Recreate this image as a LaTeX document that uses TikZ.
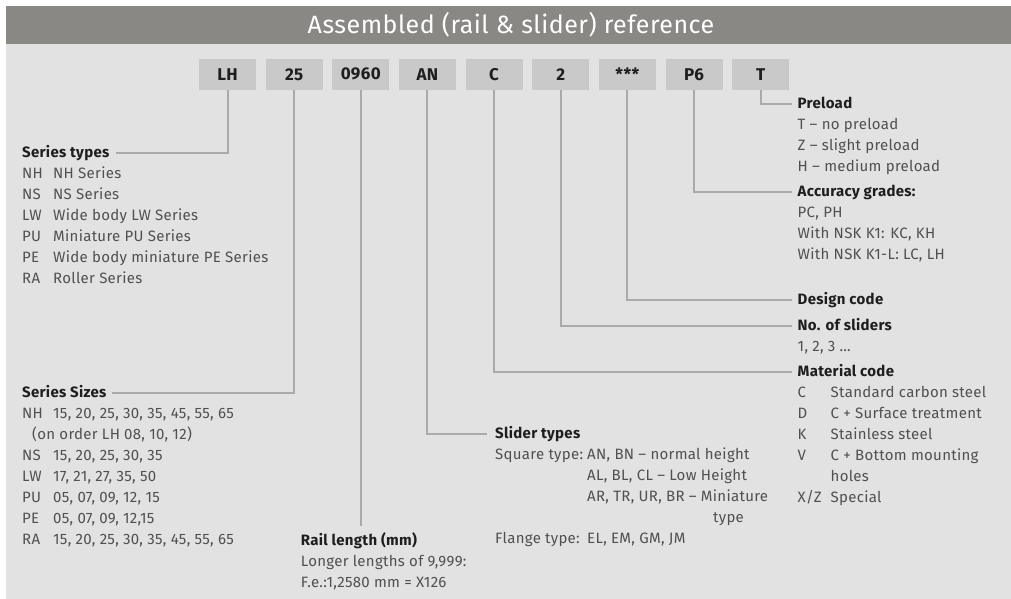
\documentclass[tikz,border=0pt]{standalone}
\usepackage{fontspec}
\setmainfont{Fira Sans}[LetterSpace=2]
\usetikzlibrary{positioning}
\definecolor{panel}{HTML}{E2E2E2}
\definecolor{band}{HTML}{898885}
\definecolor{codefill}{HTML}{C8C9C8}
\definecolor{leadline}{HTML}{AAAAAA}
\definecolor{bodytext}{HTML}{505050}
\definecolor{headtext}{HTML}{1E1E1E}

\begin{document}
\begin{tikzpicture}[
    x=1pt, y=-1pt,
    node distance=9.25pt,
    code/.style={rectangle, fill=codefill, minimum width=57pt, minimum height=30.7pt, inner sep=0pt, font=\fontsize{17}{20}\selectfont\bfseries, text=headtext},
    head/.style={anchor=west, inner sep=0pt, text height=14.7pt, text depth=6.3pt, font=\fontsize{15}{21}\selectfont\bfseries, text=headtext},
    body/.style={below right=0pt and 0pt of #1, inner sep=0pt, font=\fontsize{15}{21}\selectfont, text=bodytext},
    lead/.style={draw=leadline, line width=2pt},
    title/.style={font=\fontsize{25}{28}\selectfont, text=white}
]
\useasboundingbox (0,0) rectangle (1011,599);

% Panel and title band
\fill[panel] (6,6) rectangle (1011,599);
\fill[band] (6,6) rectangle (1011,44);
\node[title] (title) at (511,25) {Assembled (rail \& slider) reference};

% Reference code boxes
\node[code] (lh) at (227.5,74.3) {LH};
\node[code, right=of lh] (sz) {25};
\node[code, right=of sz] (len) {0960};
\node[code, right=of len] (an) {AN};
\node[code, right=of an] (mat) {C};
\node[code, right=of mat] (nsl) {2};
\node[code, right=of nsl] (dsg) {***};
\node[code, right=of dsg] (acc) {P6};
\node[code, right=of acc] (pre) {T};

% Left column
\node[head] (typest) at (22,153) {Series types};
\node[body=typest.south west] (typesb) {\begin{tabular}{@{}p{31pt}@{}l@{}}
NH & NH Series\\
NS & NS Series\\
LW & Wide body LW Series\\
PU & Miniature PU Series\\
PE & Wide body miniature PE Series\\
RA & Roller Series
\end{tabular}};

\node[head] (sizet) at (22,393) {Series Sizes};
\node[body=sizet.south west] (sizeb) {\begin{tabular}{@{}p{31pt}@{}l@{}}
NH & 15, 20, 25, 30, 35, 45, 55, 65\\
\multicolumn{2}{@{}l@{}}{\hspace{10pt}(on order LH 08, 10, 12)}\\
NS & 15, 20, 25, 30, 35\\
LW & 17, 21, 27, 35, 50\\
PU & 05, 07, 09, 12, 15\\
PE & 05, 07, 09, 12,15\\
RA & 15, 20, 25, 30, 35, 45, 55, 65
\end{tabular}};

% Middle
\node[head] (railt) at (300.7,541) {Rail length (mm)};
\node[body=railt.south west] (railb) {\begin{tabular}{@{}l@{}}
Longer lengths of 9,999:\\
F.e.:1,2580 mm = X126
\end{tabular}};

\node[head] (slidt) at (495,434) {Slider types};
\node[body=slidt.south west] (slidb) {\begin{tabular}{@{}p{92pt}@{}l@{}}
Square type: & AN, BN -- normal height\\
 & AL, BL, CL -- Low Height\\
 & AR, TR, UR, BR -- Miniature\\
 & \hspace{126pt}type\\
Flange type: & EL, EM, GM, JM
\end{tabular}};

% Right column
\node[head] (pret) at (797.5,104) {Preload};
\node[body=pret.south west] (preb) {\begin{tabular}{@{}l@{}}
T -- no preload\\
Z -- slight preload\\
H -- medium preload
\end{tabular}};

\node[head] (acct) at (797.5,192) {Accuracy grades:};
\node[body=acct.south west] (accb) {\begin{tabular}{@{}l@{}}
PC, PH\\
With NSK K1: KC, KH\\
With NSK K1-L: LC, LH
\end{tabular}};

\node[head] (dsgt) at (797.5,300) {Design code};

\node[head] (nslt) at (797.5,326) {No. of sliders};
\node[body=nslt.south west] (nslb) {\begin{tabular}{@{}l@{}}
1, 2, 3 \ldots
\end{tabular}};

\node[head] (matt) at (797.5,372) {Material code};
\node[body=matt.south west] (matb) {\begin{tabular}{@{}p{33pt}@{}l@{}}
C & Standard carbon steel\\
D & C + Surface treatment\\
K & Stainless steel\\
V & C + Bottom mounting\\
 & holes\\
X/Z & Special
\end{tabular}};

% Leader lines
\draw[lead] (lh.south) |- ([xshift=6pt]typest.east);
\draw[lead] (sz.south) |- ([xshift=5pt]sizet.east);
\draw[lead] (len.south) -- ([yshift=4pt]len.south |- railt.north);
\draw[lead] (an.south) |- ([xshift=-8pt]slidt.west);
\draw[lead] (mat.south) |- ([xshift=-6pt]matt.west);
\draw[lead] (nsl.south) |- ([xshift=-6pt]nslt.west);
\draw[lead] (dsg.south) |- ([xshift=-6pt]dsgt.west);
\draw[lead] (acc.south) |- ([xshift=-6pt]acct.west);
\draw[lead] (pre.south) |- ([xshift=-6pt]pret.west);

\end{tikzpicture}
\end{document}
